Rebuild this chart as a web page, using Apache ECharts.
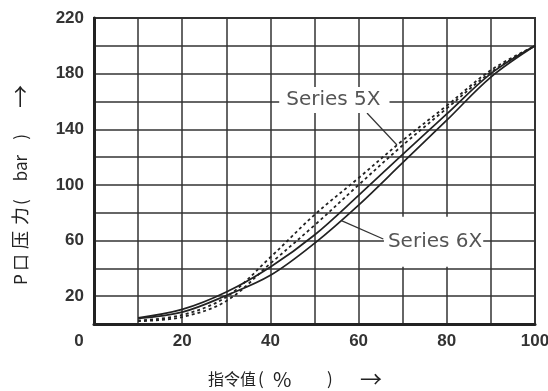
<!DOCTYPE html>
<html>
<head>
<meta charset="utf-8">
<script src="https://cdn.jsdelivr.net/npm/echarts@6/dist/echarts.min.js"></script>
<style>
html,body{margin:0;padding:0;background:#fff;}
#chart{width:548px;height:391px;}
</style>
</head>
<body>
<div id="chart"></div>
<script>
// ---- data ----
const xValues   = [10, 20, 30, 40, 50, 60, 70, 80, 90, 100];
const s6xUpper  = [4.5, 10.5, 23, 41, 64, 92.5, 122, 151, 180, 200];
const s6xLower  = [4, 8.5, 20.5, 35, 58, 85.5, 116, 146.5, 177.5, 200];
const s5xUpper  = [2.5, 6.5, 19.5, 48, 78.5, 105, 132, 157, 182.5, 200];
const s5xLower  = [2, 5, 16.5, 43.5, 71, 100, 128.5, 155, 181, 200];
const xTickLabels = [0, 20, 40, 60, 80, 100];
const yTickLabels = [20, 60, 100, 140, 180, 220];
// annotation anchors (data coordinates)
const label5X = [54.5, 161];
const leader5X = [[61.9, 151.7], [68.7, 128.7]];
const label6X = [77.0, 59.2];
const leader6X = [[65.6, 61.1], [56.1, 74.3]];

const pairs = arr => xValues.map((x, i) => [x, arr[i]]);
const tickFont = {
  fontFamily: "'Liberation Sans Narrow', 'Arial Narrow', 'Liberation Sans', sans-serif",
  fontWeight: 'bold', fontSize: 17, color: '#333'
};
const annFont = { fontFamily: "'DejaVu Sans', sans-serif", fontSize: 20, color: '#555' };
const CJK = "'Noto Sans CJK SC', sans-serif";
const tok = (w, size, align) => ({ fontFamily: CJK, fontSize: size, color: '#222', width: w, align: align || 'left' });

const solid = { color: '#222', width: 1.7, type: 'solid' };
const dashed = { color: '#222', width: 1.8, type: [3, 3] };
const SM = 0.35;

const chart = echarts.init(document.getElementById('chart'), null, { renderer: 'canvas' });
chart.setOption({
  backgroundColor: '#fff',
  animation: false,
  grid: { left: 94, right: 13, top: 18, bottom: 67, show: true, borderColor: '#333', borderWidth: 2, outerBoundsMode: 'none', containLabel: false },
  xAxis: {
    type: 'value', min: 0, max: 100, interval: 10,
    name: '{a|指令值}{b|(}{c|%}{d|)}{e|→}',
    nameLocation: 'middle', nameGap: 44,
    nameTextStyle: {
      fontFamily: CJK, fontSize: 17, color: '#222', padding: [0, 36, 0, 0],
      rich: { a: tok(50, 16), b: tok(15, 17), c: tok(54, 20), d: tok(33, 17), e: tok(25, 22) }
    },
    axisLine: { show: true, lineStyle: { color: '#222', width: 3 } },
    axisTick: { show: false },
    splitLine: { show: true, lineStyle: { color: '#333', width: 1.5 } },
    axisLabel: Object.assign({}, tickFont, {
      margin: 9,
      formatter: v => xTickLabels.includes(v) ? (v === 0 ? '{z|0}' : String(v)) : '',
      rich: { z: Object.assign({}, tickFont, { padding: [0, 30, 0, 0] }) }
    })
  },
  yAxis: {
    type: 'value', min: 0, max: 220, interval: 20,
    name: '{p|P}{k|口}{y|压}{l|力}{b|(}{c|bar}{d|)}{e|→}',
    nameLocation: 'middle', nameGap: 62,
    nameTextStyle: {
      fontFamily: CJK, fontSize: 17, color: '#222', padding: [0, 28, 0, 0],
      rich: { p: tok(14, 17), k: tok(22, 17), y: tok(24, 18), l: tok(20, 18), b: tok(12, 17), c: tok(50, 17, 'center'), d: tok(12, 17), e: tok(46, 23, 'right') }
    },
    axisLine: { show: true, lineStyle: { color: '#222', width: 3 } },
    axisTick: { show: false },
    splitLine: { show: true, lineStyle: { color: '#333', width: 1.5 } },
    axisLabel: Object.assign({}, tickFont, {
      margin: 10,
      formatter: v => yTickLabels.includes(v) ? String(v) : ''
    })
  },
  series: [
    {
      name: 'Series 6X', type: 'line', data: pairs(s6xUpper), showSymbol: false,
      smooth: SM, lineStyle: solid, z: 3,
      markLine: {
        silent: true, symbol: 'none', label: { show: false },
        lineStyle: { color: '#333', width: 1.2, type: 'solid' },
        data: [[{ coord: leader6X[0] }, { coord: leader6X[1] }]]
      },
      markPoint: {
        silent: true, symbol: 'rect', symbolSize: 0,
        data: [{ coord: label6X, label: Object.assign({ show: true, position: 'inside', formatter: 'Series 6X', backgroundColor: '#fff', lineHeight: 20, padding: [16, 1, 14, 4] }, annFont) }]
      }
    },
    { name: 'Series 6X ', type: 'line', data: pairs(s6xLower), showSymbol: false, smooth: SM, lineStyle: solid, z: 3 },
    {
      name: 'Series 5X', type: 'line', data: pairs(s5xUpper), showSymbol: false,
      smooth: SM, lineStyle: dashed, z: 3,
      markLine: {
        silent: true, symbol: 'none', label: { show: false },
        lineStyle: { color: '#333', width: 1.2, type: 'solid' },
        data: [[{ coord: leader5X[0] }, { coord: leader5X[1] }]]
      },
      markPoint: {
        silent: true, symbol: 'rect', symbolSize: 0,
        data: [{ coord: label5X, label: Object.assign({ show: true, position: 'inside', formatter: 'Series 5X', backgroundColor: '#fff', lineHeight: 20, padding: [3, 9, 3, 7] }, annFont) }]
      }
    },
    { name: 'Series 5X ', type: 'line', data: pairs(s5xLower), showSymbol: false, smooth: SM, lineStyle: dashed, z: 3 }
  ]
});
</script>
</body>
</html>
